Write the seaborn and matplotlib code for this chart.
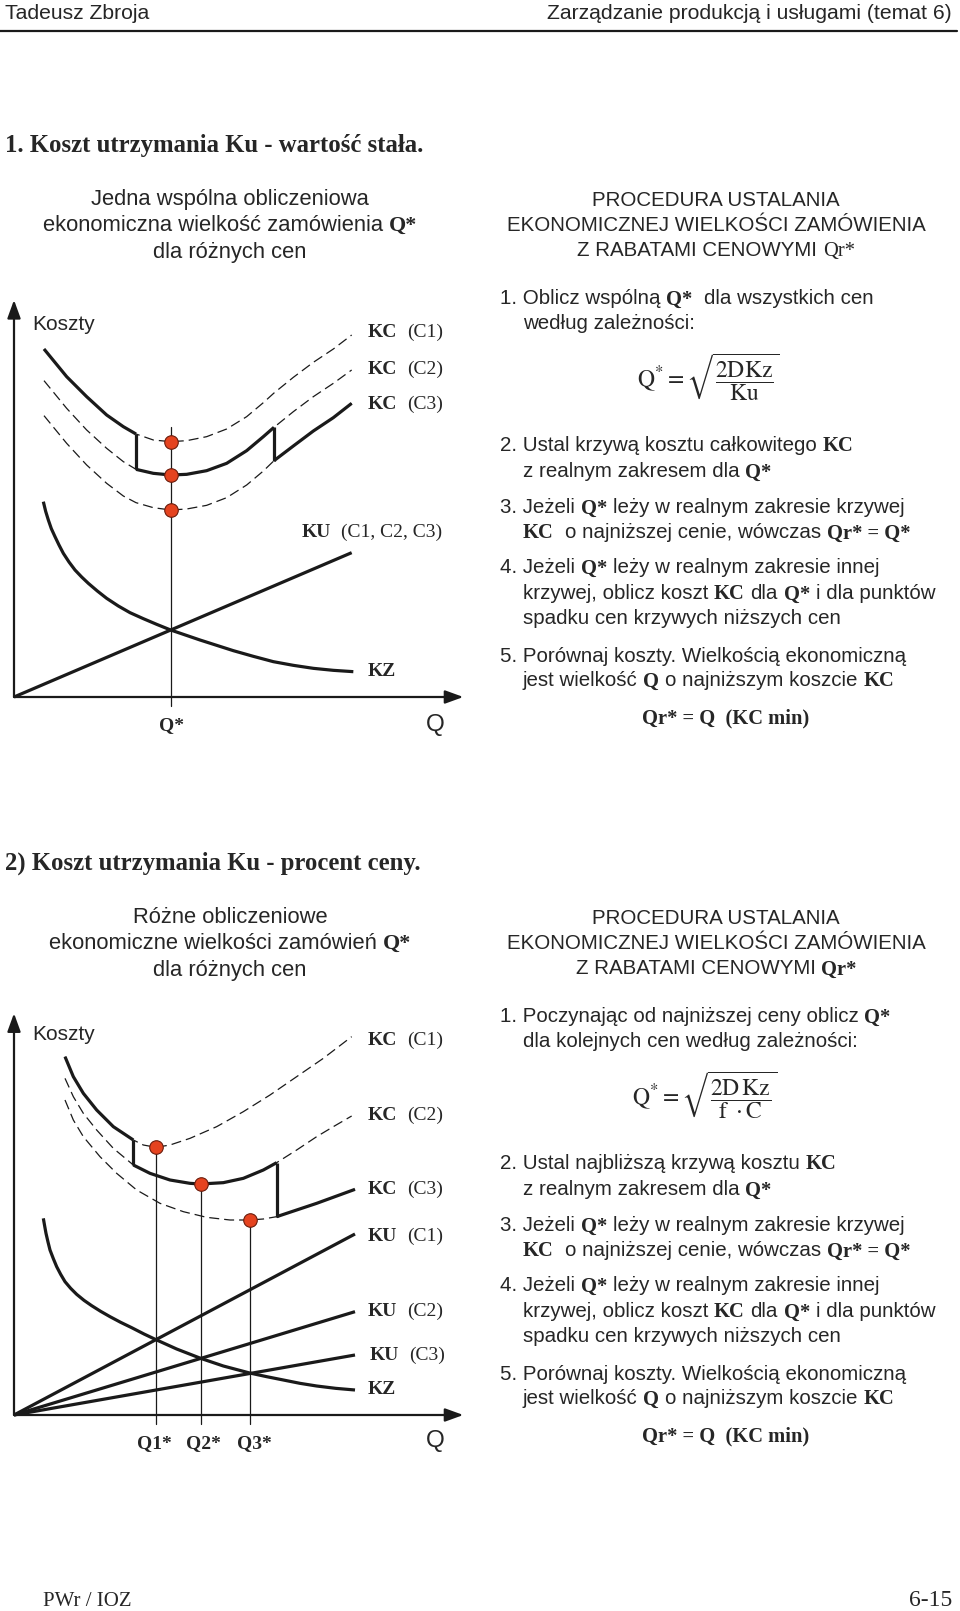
import numpy as np
import pandas as pd
import matplotlib
matplotlib.use('Agg')
import matplotlib.pyplot as plt
import seaborn as sns

# --- diagram 1: holding cost Ku constant (one common Q*) ---
kc_q_1 = [90, 158, 218, 278, 328, 366, 418, 470, 518, 578, 638, 698, 748, 780, 838, 898, 958, 1013]
kc_c1_1 = [1044, 961, 901, 846, 811, 789, 771, 766, 769, 781, 804, 841, 883, 912, 959, 1004, 1044, 1086]
kc_c2_1 = [949, 866, 801, 746, 706, 683, 671, 666, 668, 679, 701, 739, 781, 809, 856, 901, 941, 981]
kc_c3_1 = [844, 761, 696, 641, 603, 583, 568, 561, 564, 575, 598, 636, 678, 709, 753, 798, 838, 881]
kz_q_1 = [88, 95, 103, 112, 123, 135, 148, 165, 183, 203, 223, 250, 278, 313, 348, 388, 428, 470, 514, 558,
          608, 658, 718, 778, 838, 898, 958, 1018]
kz_c_1 = [586, 557, 531, 505, 481, 456, 431, 405, 381, 360, 341, 318, 296, 273, 253, 235, 218, 201, 186, 171,
          155, 139, 122, 106, 95, 86, 80, 76]
ku_q_1 = [0, 1013]
ku_c_1 = [0, 433]
breaks_1 = [366, 780]          # price-break quantities
q_star_1 = 470
q_line_top_1 = 811

# --- diagram 2: holding cost as % of price (Q1*, Q2*, Q3*) ---
kc_c1_2_q = [153, 178, 208, 248, 298, 358, 388, 426, 468, 528, 608, 688, 768, 848, 928, 1013]
kc_c1_2 = [1075, 1015, 965, 915, 865, 825, 810, 803, 810, 830, 865, 910, 960, 1015, 1070, 1135]
kc_c2_2_q = [153, 178, 208, 248, 298, 358, 408, 468, 528, 560, 628, 688, 748, 788, 848, 908, 958, 1013]
kc_c2_2 = [1010, 955, 905, 855, 800, 750, 725, 705, 695, 693, 697, 710, 735, 757, 795, 835, 865, 897]
kc_c3_2_q = [153, 178, 208, 258, 308, 368, 438, 508, 578, 648, 707, 748, 788, 908, 1023]
kc_c3_2 = [945, 885, 835, 775, 725, 675, 635, 610, 593, 585, 585, 588, 595, 635, 677]
kz_q_2 = [88, 92, 96, 102, 108, 118, 128, 140, 153, 170, 188, 210, 233, 260, 288, 320, 353, 390, 426, 488,
          560, 628, 707, 758, 808, 858, 908, 965, 1023]
kz_c_2 = [590, 567, 545, 519, 495, 469, 445, 422, 400, 380, 362, 344, 328, 311, 295, 278, 262, 243, 226, 198,
          170, 147, 126, 115, 105, 95, 87, 80, 75]
ku_q_2 = [0, 1023]
ku_c1_2 = [0, 543]
ku_c2_2 = [0, 310]
ku_c3_2 = [0, 180]
breaks_2 = [358, 788]
q_stars_2 = [426, 560, 707]

q_line_bottom = -27

sns.set_theme(style='white')
plt.rcParams['font.family'] = ['Liberation Sans', 'DejaVu Sans']
plt.rcParams['mathtext.fontset'] = 'stix'

W, H = 960, 1611
fig = plt.figure(figsize=(W / 100, H / 100), dpi=100)
page = fig.add_axes([0, 0, 1, 1])
page.set_xlim(0, W)
page.set_ylim(H, 0)
page.axis('off')
renderer = fig.canvas.get_renderer()

STYLE = {
    's': dict(family=['Liberation Sans', 'DejaVu Sans']),
    'b': dict(family=['Liberation Serif', 'DejaVu Serif'], fontweight='bold'),
    't': dict(family=['Liberation Serif', 'DejaVu Serif']),
}
BODY = 14.8


def put(x, y, parts, size=BODY, ha='left'):
    # mixed-font line of text, y = visual middle of the line
    em = size * 100 / 72
    base = y + 0.36 * em
    cur = x
    texts = []
    for txt, st in parts:
        spw = (0.278 if st == 's' else 0.25) * em
        lead = len(txt) - len(txt.lstrip(' '))
        trail = len(txt) - len(txt.rstrip(' '))
        cur += lead * spw
        t = page.text(cur, base, txt.strip(' '), fontsize=size, va='baseline', ha='left', **STYLE[st])
        cur += t.get_window_extent(renderer).width + trail * spw
        texts.append(t)
    shift = {'left': 0, 'center': (cur - x) / 2, 'right': cur - x}[ha]
    for t in texts:
        t.set_x(t.get_position()[0] - shift)


# header / footer
put(5, 11, [('Tadeusz Zbroja', 's')], size=15.2)
put(952, 11, [('Zarządzanie produkcją i usługami (temat 6)', 's')], size=15.2, ha='right')
page.plot([0, 957], [31, 31], color='k', lw=1.6)
put(43, 1599, [('PWr / IOZ', 't')], size=15)
put(952, 1598, [('6-15', 't')], size=17, ha='right')

# section headings
put(5, 143, [('1. Koszt utrzymania Ku - wartość stała.', 'b')], size=17.8)
put(5, 861, [('2) Koszt utrzymania Ku - procent ceny.', 'b')], size=17.8)

TITLE_L = 15.8
put(230, 197, [('Jedna wspólna obliczeniowa', 's')], size=TITLE_L, ha='center')
put(230, 223, [('ekonomiczna wielkość zamówienia ', 's'), ('Q*', 'b')], size=TITLE_L, ha='center')
put(230, 250, [('dla różnych cen', 's')], size=TITLE_L, ha='center')
put(230, 915, [('Różne obliczeniowe', 's')], size=TITLE_L, ha='center')
put(230, 941, [('ekonomiczne wielkości zamówień ', 's'), ('Q*', 'b')], size=TITLE_L, ha='center')
put(230, 968, [('dla różnych cen', 's')], size=TITLE_L, ha='center')

for dy, qr in [(0, 't'), (718, 'b')]:
    put(716, 199 + dy, [('PROCEDURA USTALANIA', 's')], ha='center')
    put(716, 224 + dy, [('EKONOMICZNEJ WIELKOŚCI ZAMÓWIENIA', 's')], ha='center')
    put(716, 249 + dy, [('Z RABATAMI CENOWYMI ', 's'), ('Qr*', qr)], ha='center')

# procedure text blocks
X1, X2 = 500, 523
put(X1, 297, [('1. Oblicz wspólną ', 's'), ('Q*', 'b'), ('  dla wszystkich cen', 's')])
put(X2, 322, [('według zależności:', 's')])
page.text(708, 378, r'$\mathrm{Q}^{*} = \sqrt{\dfrac{\mathrm{2DKz}}{\mathrm{Ku}}}$', fontsize=17,
          ha='center', va='center')
put(X1, 1015, [('1. Poczynając od najniższej ceny oblicz ', 's'), ('Q*', 'b')])
put(X2, 1040, [('dla kolejnych cen według zależności:', 's')])
page.text(705, 1096, r'$\mathrm{Q}^{*} = \sqrt{\dfrac{\mathrm{2D\,Kz}}{\mathrm{f\ \cdot C}}}$', fontsize=17,
          ha='center', va='center')

for dy, first in [(0, '2. Ustal krzywą kosztu całkowitego '), (718, '2. Ustal najbliższą krzywą kosztu ')]:
    put(X1, 444 + dy, [(first, 's'), ('KC', 'b')])
    put(X2, 470 + dy, [('z realnym zakresem dla ', 's'), ('Q*', 'b')])
    put(X1, 506 + dy, [('3. Jeżeli ', 's'), ('Q*', 'b'), (' leży w realnym zakresie krzywej', 's')])
    put(X2, 531 + dy, [('KC', 'b'), ('  o najniższej cenie, wówczas ', 's'), ('Qr* = Q*', 'b')])
    put(X1, 566 + dy, [('4. Jeżeli ', 's'), ('Q*', 'b'), (' leży w realnym zakresie innej', 's')])
    put(X2, 592 + dy, [('krzywej, oblicz koszt ', 's'), ('KC', 'b'), (' dla ', 's'), ('Q*', 'b'),
                       (' i dla punktów', 's')])
    put(X2, 617 + dy, [('spadku cen krzywych niższych cen', 's')])
    put(X1, 655 + dy, [('5. Porównaj koszty. Wielkością ekonomiczną', 's')])
    put(X2, 679 + dy, [('jest wielkość ', 's'), ('Q', 'b'), (' o najniższym koszcie ', 's'), ('KC', 'b')])
    put(726, 716 + dy, [('Qr* = Q  (KC min)', 'b')], ha='center')


# diagrams
def diag_axes(top, bottom, ylim):
    ax = fig.add_axes([0, 1 - bottom / H, 480 / W, (bottom - top) / H])
    ax.set_xlim(-42, 1398)
    ax.set_ylim(ylim)
    ax.axis('off')
    ax.patch.set_alpha(0)
    return ax


def axes_arrows(ax, ytop):
    arr = dict(arrowstyle='-|>,head_length=0.55,head_width=0.2', lw=1.6, color='k',
               shrinkA=0, shrinkB=0, mutation_scale=20)
    ax.annotate('', xy=(0, ytop), xytext=(0, 0), arrowprops=arr)
    ax.annotate('', xy=(1348, 0), xytext=(0, 0), arrowprops=arr)


def thick(ax, q, c):
    sns.lineplot(x=q, y=c, ax=ax, color='k', lw=2.3, sort=False, estimator=None,
                 solid_joinstyle='round', solid_capstyle='butt')


def thin(ax, q, c, dashed=False):
    sns.lineplot(x=q, y=c, ax=ax, color='k', lw=0.9, sort=False, estimator=None,
                 linestyle=(0, (8, 4)) if dashed else '-')


def kc_envelope(ax, curves, breaks):
    # dashed full curves, heavy line on the realistic range of each price
    lims = [-np.inf] + list(breaks) + [np.inf]
    for i, (q, c) in enumerate(curves):
        q = np.array(q)
        c = np.array(c)
        thin(ax, q, c, dashed=True)
        m = (q >= lims[i]) & (q <= lims[i + 1])
        thick(ax, q[m], c[m])
    for i, b in enumerate(breaks):
        (qa, ca), (qb, cb) = curves[i], curves[i + 1]
        thick(ax, [b, b], [ca[qa.index(b)], cb[qb.index(b)]])


def dots(ax, q, c):
    sns.scatterplot(x=q, y=c, ax=ax, s=95, color='#e5431f', edgecolor='#6b1c0c',
                    linewidth=0.8, zorder=6)


ax1 = diag_axes(290, 740, (-129, 1221))
axes_arrows(ax1, 1191)
thin(ax1, [q_star_1, q_star_1], [q_line_top_1, q_line_bottom])
thick(ax1, ku_q_1, ku_c_1)
thick(ax1, kz_q_1, kz_c_1)
kc_envelope(ax1, [(kc_q_1, kc_c1_1), (kc_q_1, kc_c2_1), (kc_q_1, kc_c3_1)], breaks_1)
i_star = kc_q_1.index(q_star_1)
dots(ax1, [q_star_1] * 3, [kc_c1_1[i_star], kc_c2_1[i_star], kc_c3_1[i_star]])

ax2 = diag_axes(1000, 1450, (-105, 1245))
axes_arrows(ax2, 1205)
curves_2 = [(kc_c1_2_q, kc_c1_2), (kc_c2_2_q, kc_c2_2), (kc_c3_2_q, kc_c3_2)]
dot_c = [c[q.index(qs)] for (q, c), qs in zip(curves_2, q_stars_2)]
for qs, cs in zip(q_stars_2, dot_c):
    thin(ax2, [qs, qs], [cs, q_line_bottom])
for ku in [ku_c1_2, ku_c2_2, ku_c3_2]:
    thick(ax2, ku_q_2, ku)
thick(ax2, kz_q_2, kz_c_2)
kc_envelope(ax2, curves_2, breaks_2)
dots(ax2, q_stars_2, dot_c)

for ax in (ax1, ax2):
    if ax.get_legend():
        ax.get_legend().remove()

# diagram labels
put(32, 322, [('Koszty', 's')], size=15)
put(368, 330, [('KC', 'b'), ('  (C1)', 't')], size=14)
put(368, 367, [('KC', 'b'), ('  (C2)', 't')], size=14)
put(368, 402, [('KC', 'b'), ('  (C3)', 't')], size=14)
put(302, 530, [('KU', 'b'), ('  (C1, C2, C3)', 't')], size=14)
put(368, 669, [('KZ', 'b')], size=14)
put(171, 723, [('Q*', 'b')], size=14, ha='center')
put(426, 722, [('Q', 's')], size=17.5)

put(32, 1032, [('Koszty', 's')], size=15)
for y, lab, num in [(1038, 'KC', 1), (1113, 'KC', 2), (1187, 'KC', 3), (1234, 'KU', 1), (1309, 'KU', 2),
                    (1353, 'KU', 3)]:
    put(368 if num != 3 or lab == 'KC' else 370, y, [(lab, 'b'), (f'  (C{num})', 't')], size=14)
put(368, 1387, [('KZ', 'b')], size=14)
for x, lab in [(154, 'Q1*'), (203, 'Q2*'), (254, 'Q3*')]:
    put(x, 1441, [(lab, 'b')], size=14, ha='center')
put(426, 1438, [('Q', 's')], size=17.5)

fig.savefig('out.png', dpi=100)
